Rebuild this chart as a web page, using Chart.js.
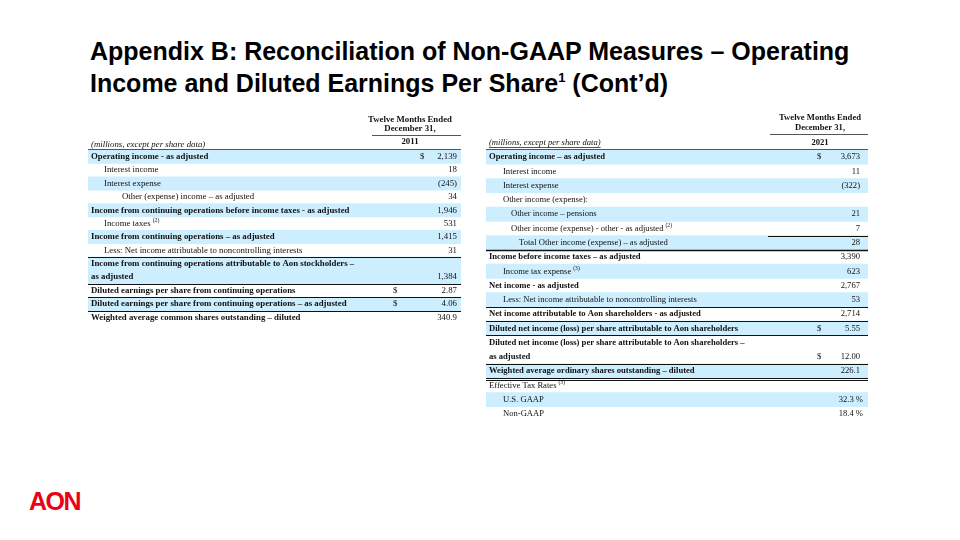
<!DOCTYPE html>
<html>
<head>
<meta charset="utf-8">
<script src="https://cdn.jsdelivr.net/npm/chart.js@4.4.1/dist/chart.umd.min.js"></script>
<style>
  body { margin: 0; width: 960px; height: 540px; background: #fff; position: relative; overflow: hidden; font-family: "Liberation Sans", Arial, sans-serif; }
  #title { position: absolute; left: 90px; top: 35px; margin: 0; font-size: 25px; font-weight: bold; line-height: 32px; letter-spacing: 0; color: #000; }
  #title sup { font-size: 13px; vertical-align: 10px; line-height: 0; }
  #logo { position: absolute; left: 29px; top: 487px; font-size: 25px; font-weight: bold; color: #eb0017; letter-spacing: -1.5px; }
  .tbl { position: absolute; }
</style>
</head>
<body>
<h1 id="title">Appendix B: Reconciliation of Non-GAAP Measures – Operating<br>Income and Diluted Earnings Per Share<sup>1</sup> (Cont’d)</h1>
<div id="logo">AON</div>
<div class="tbl" style="left:88px; top:108px; width:373px; height:216px;"><canvas id="left"></canvas></div>
<div class="tbl" style="left:486px; top:108px; width:382px; height:313px;"><canvas id="right"></canvas></div>
<script>
// ---- 2011 table ----
const leftRows = [
  "Operating income - as adjusted",
  "Interest income",
  "Interest expense",
  "Other (expense) income – as adjusted",
  "Income from continuing operations before income taxes - as adjusted",
  "Income taxes",
  "Income from continuing operations – as adjusted",
  "Less: Net income attributable to noncontrolling interests",
  ["Income from continuing operations attributable to Aon stockholders –", "as adjusted"],
  "Diluted earnings per share from continuing operations",
  "Diluted earnings per share from continuing operations – as adjusted",
  "Weighted average common shares outstanding – diluted",
];
const leftNotes = ["", "", "", "", "", "(2)", "", "", "", "", "", ""];
const leftValues = [2139, 18, -245, 34, 1946, 531, 1415, 31, 1384, 2.87, 4.06, 340.9];
const leftDecimals = [0, 0, 0, 0, 0, 0, 0, 0, 0, 2, 2, 1];
const leftUnits = ["$", "", "", "", "", "", "", "", "", "$", "$", ""];

// ---- 2021 table ----
const rightRows = [
  "Operating income – as adjusted",
  "Interest income",
  "Interest expense",
  "Other income (expense):",
  "Other income – pensions",
  "Other income (expense) - other - as adjusted",
  "Total Other income (expense) – as adjusted",
  "Income before income taxes – as adjusted",
  "Income tax expense",
  "Net income - as adjusted",
  "Less: Net income attributable to noncontrolling interests",
  "Net income attributable to Aon shareholders - as adjusted",
  "Diluted net income (loss) per share attributable to Aon shareholders",
  ["Diluted net income (loss) per share attributable to Aon shareholders –", "as adjusted"],
  "Weighted average ordinary shares outstanding – diluted",
  "Effective Tax Rates",
  "U.S. GAAP",
  "Non-GAAP",
];
const rightNotes = ["", "", "", "", "", "(2)", "", "", "(3)", "", "", "", "", "", "", "(3)", "", ""];
const rightValues = [3673, 11, -322, null, 21, 7, 28, 3390, 623, 2767, 53, 2714, 5.55, 12.00, 226.1, null, 32.3, 18.4];
const rightDecimals = [0, 0, 0, 0, 0, 0, 0, 0, 0, 0, 0, 0, 2, 2, 1, 0, 1, 1];
const rightUnits = ["$", "", "", "", "", "", "", "", "", "", "", "", "$", "$", "", "", "%", "%"];

// formatting (not data)
const leftStyle = {
  year: "2011",
  bold: [1, 0, 0, 0, 1, 0, 1, 0, 1, 1, 1, 1],
  indent: [0, 1, 1, 2, 0, 1, 0, 1, 0, 0, 0, 0],
  indentStep: [3, 16, 34],
  valueRight: 369,
  dollarX: { 0: 332, 9: 305, 10: 305 },
  headCenter: 322,
  headLine: [284, 373],
  headY: [12, 21, 27, 34, 37],
  rules: [{ after: 7 }, { after: 8 }, { after: 9 }, { after: 10 }],
  font: 8.8,
};
const rightStyle = {
  year: "2021",
  bold: [1, 0, 0, 0, 0, 0, 0, 1, 0, 1, 0, 1, 1, 1, 1, 0, 0, 0],
  indent: [0, 1, 1, 1, 2, 2, 3, 0, 1, 0, 1, 0, 0, 0, 0, 0, 1, 1],
  indentStep: [3, 17, 25, 33],
  valueRight: 374,
  dollarX: { 0: 331, 12: 331, 13: 331 },
  headCenter: 334,
  headLine: [284, 382],
  headY: [10, 20, 26, 35, 35],
  rules: [{ after: 5, short: true }, { after: 6, width: 1.6 }, { after: 10 }, { after: 11 }, { after: 12 }, { after: 13 }, { after: 14, double: true }],
  font: 8.6,
};

const BLUE = "#cdeefe";
const SERIF = '"Liberation Serif", "Times New Roman", serif';

// expand rows into one category per printed line
function buildLines(rows) {
  const cats = [], owner = [], lineOf = [];
  rows.forEach((r, i) => {
    const parts = Array.isArray(r) ? r : [r];
    parts.forEach((p, k) => {
      cats.push(p);
      owner.push(i);
      lineOf.push(k === parts.length - 1 ? "last" : "first");
    });
  });
  return { cats, owner, lineOf };
}

function fmt(v, dec) {
  if (v === null) return "";
  const s = Math.abs(v).toLocaleString("en-US", { minimumFractionDigits: dec, maximumFractionDigits: dec });
  return v < 0 ? "(" + s + ")" : s;
}

function tablePlugin(values, decimals, units, notes, st, lines) {
  return {
    id: "tableText",
    afterDatasetsDraw(chart) {
      const ctx = chart.ctx, area = chart.chartArea, y = chart.scales.y;
      const band = (area.bottom - area.top) / lines.cats.length;
      ctx.save();
      ctx.fillStyle = "#111";
      ctx.textBaseline = "middle";

      // header
      ctx.font = `bold ${st.font}px ${SERIF}`;
      ctx.textAlign = "center";
      ctx.fillText("Twelve Months Ended", st.headCenter, st.headY[0]);
      ctx.fillText("December 31,", st.headCenter, st.headY[1]);
      ctx.fillText(st.year, st.headCenter, st.headY[3]);
      ctx.strokeStyle = "#555";
      ctx.lineWidth = 1;
      ctx.beginPath();
      ctx.moveTo(st.headLine[0], st.headY[2] + 0.5);
      ctx.lineTo(st.headLine[1], st.headY[2] + 0.5);
      ctx.stroke();
      ctx.textAlign = "left";
      ctx.font = `italic ${st.font}px ${SERIF}`;
      const mil = "(millions, except per share data)";
      ctx.fillText(mil, 3, st.headY[4]);
      const w = ctx.measureText(mil).width;
      ctx.beginPath();
      ctx.moveTo(3, st.headY[4] + 4.5);
      ctx.lineTo(3 + w, st.headY[4] + 4.5);
      ctx.stroke();
      ctx.lineWidth = 1.2;
      ctx.beginPath();
      ctx.moveTo(area.left, area.top - 0.5);
      ctx.lineTo(area.right, area.top - 0.5);
      ctx.stroke();

      // rows
      lines.cats.forEach((txt, c) => {
        const i = lines.owner[c];
        const py = y.getPixelForValue(c);
        const weight = st.bold[i] ? "bold " : "";
        ctx.font = `${weight}${st.font}px ${SERIF}`;
        ctx.textAlign = "left";
        const x0 = st.indentStep[st.indent[i]];
        ctx.fillText(txt, x0, py);
        if (notes[i] && lines.lineOf[c] === "last") {
          const tw = ctx.measureText(txt).width;
          ctx.font = `${st.font - 3}px ${SERIF}`;
          ctx.fillText(notes[i], x0 + tw + 2, py - 3);
        }
        if (lines.lineOf[c] !== "last") return;
        ctx.font = `${st.font}px ${SERIF}`;
        ctx.textAlign = "right";
        if (units[i] === "%") {
          ctx.fillText(fmt(values[i], decimals[i]) + " %", st.valueRight + 3, py);
        } else {
          ctx.fillText(fmt(values[i], decimals[i]), st.valueRight, py);
        }
        if (units[i] === "$") {
          ctx.textAlign = "left";
          ctx.fillText("$", st.dollarX[i], py);
        }
      });

      // rules between rows
      ctx.strokeStyle = "#111";
      st.rules.forEach((r) => {
        const last = lines.owner.lastIndexOf(r.after);
        const yy = Math.round(area.top + band * (last + 1)) + 0.5;
        ctx.lineWidth = r.width || 1;
        const x1 = r.short ? st.headLine[0] - 2 : area.left;
        ctx.beginPath();
        ctx.moveTo(x1, yy);
        ctx.lineTo(area.right, yy);
        if (r.double) {
          ctx.moveTo(x1, yy + 2);
          ctx.lineTo(area.right, yy + 2);
        }
        ctx.stroke();
      });
      ctx.restore();
    },
  };
}

function makeTable(id, rows, values, decimals, units, notes, st) {
  const lines = buildLines(rows);
  const shade = lines.owner.map((i) => (i % 2 === 0 ? 1 : null));
  new Chart(document.getElementById(id), {
    type: "bar",
    data: {
      labels: lines.cats,
      datasets: [{ data: shade, backgroundColor: BLUE, borderWidth: 0, barPercentage: 1, categoryPercentage: 1 }],
    },
    options: {
      indexAxis: "y",
      responsive: true,
      maintainAspectRatio: false,
      animation: false,
      events: [],
      layout: { padding: { top: 42, left: 0, right: 0, bottom: 0 } },
      plugins: { legend: { display: false }, tooltip: { enabled: false } },
      scales: {
        x: { display: false, min: 0, max: 1 },
        y: { display: false },
      },
    },
    plugins: [tablePlugin(values, decimals, units, notes, st, lines)],
  });
}

makeTable("left", leftRows, leftValues, leftDecimals, leftUnits, leftNotes, leftStyle);
makeTable("right", rightRows, rightValues, rightDecimals, rightUnits, rightNotes, rightStyle);
</script>
</body>
</html>
